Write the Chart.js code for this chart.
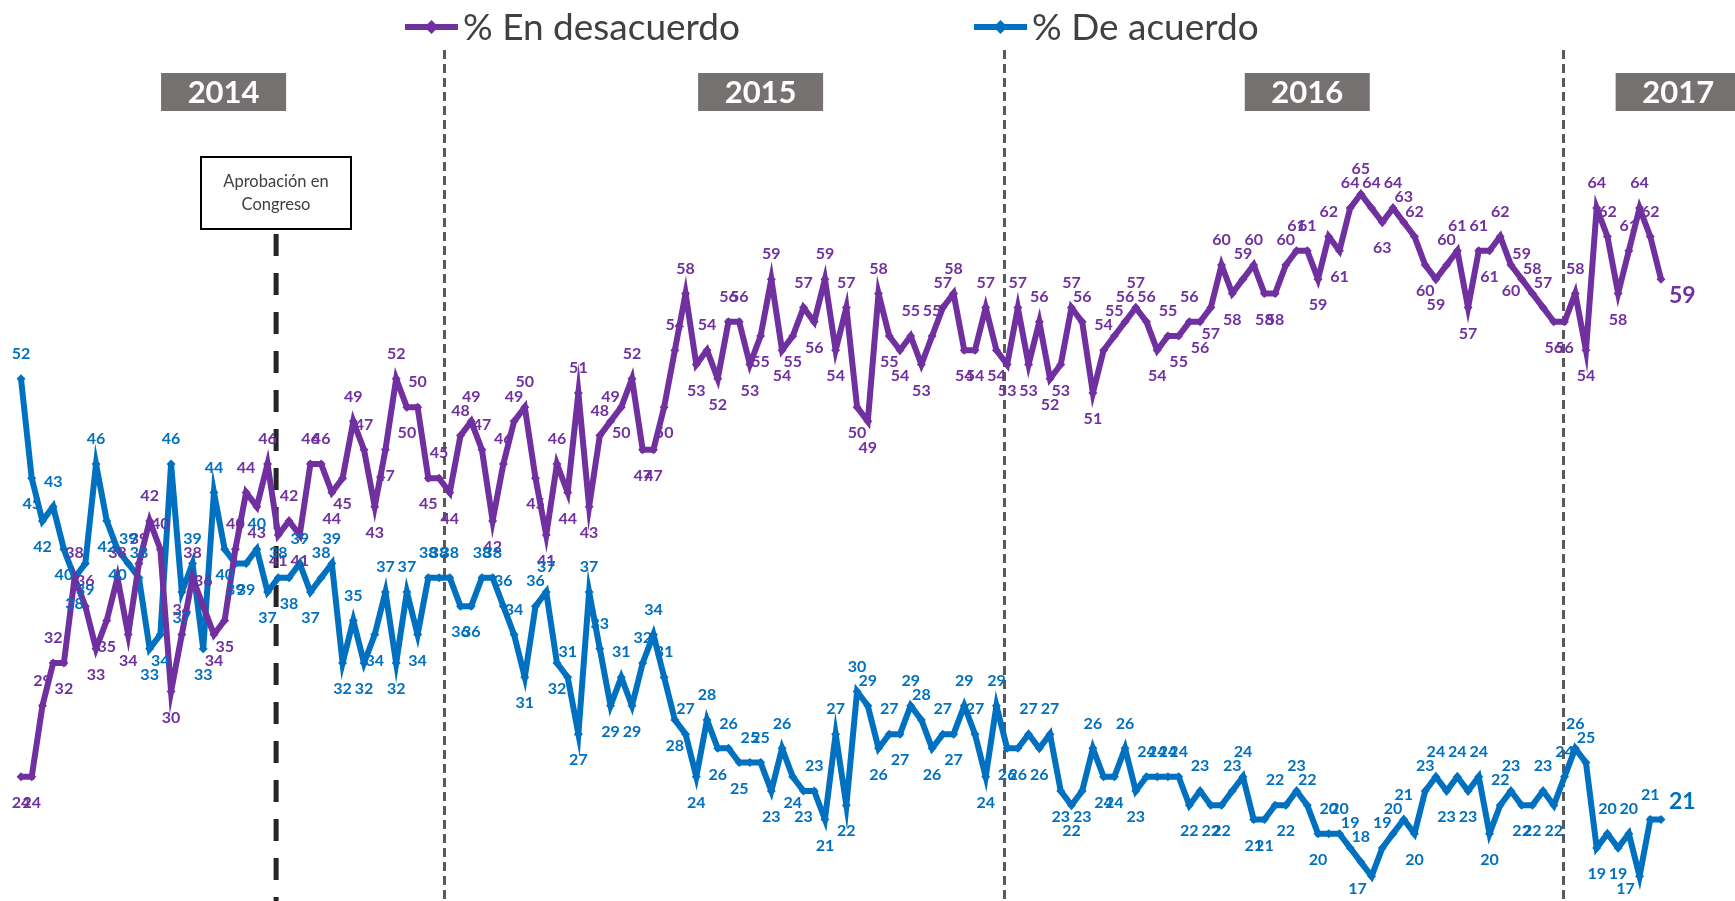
<!DOCTYPE html>
<html>
<head>
<meta charset="utf-8">
<script src="https://cdn.jsdelivr.net/npm/chart.js@4.4.1/dist/chart.umd.min.js"></script>
<style>
  html, body { margin: 0; padding: 0; background: #fff; }
  #wrap { position: relative; width: 1735px; height: 901px; }
</style>
</head>
<body>
<div id="wrap"><canvas id="chart"></canvas></div>
<script>
// % En desacuerdo (weekly)
const desacuerdo = [
  24, 24, 29, 32, 32, 38, 36, 33, 35, 38, 34, 39, 42, 40, 30, 34, 38, 36, 34, 35, 40, 44, 43, 46,
  41, 42, 41, 46, 46, 44, 45, 49, 47, 43, 47, 52, 50, 50, 45, 45, 44, 48, 49, 47, 42, 46, 49, 50, 45, 41, 46, 44,
  51, 43, 48, 49, 50, 52, 47, 47, 50, 54, 58, 53, 54, 52, 56, 56, 53, 55, 59, 54, 55, 57, 56, 59, 54, 57, 50,
  49, 58, 55, 54, 55, 53, 55, 57, 58, 54, 54, 57, 54, 53, 57, 53, 56, 52, 53, 57, 56, 51, 54, 55, 56, 57,
  56, 54, 55, 55, 56, 56, 57, 60, 58, 59, 60, 58, 58, 60, 61, 61, 59, 62, 61, 64, 65, 64, 63, 64, 63, 62, 60, 59,
  60, 61, 57, 61, 61, 62, 60, 59, 58, 57, 56, 56, 58, 54, 64, 62, 58, 61, 64, 62, 59
];

// % De acuerdo (weekly)
const deAcuerdo = [
  52, 45, 42, 43, 40, 38, 39, 46, 42, 40, 39, 38, 33, 34, 46, 37, 39, 33, 44, 40, 39, 39, 40, 37,
  38, 38, 39, 37, 38, 39, 32, 35, 32, 34, 37, 32, 37, 34, 38, 38, 38, 36, 36, 38, 38, 36, 34, 31, 36, 37, 32, 31, 27,
  37, 33, 29, 31, 29, 32, 34, 31, 28, 27, 24, 28, 26, 26, 25, 25, 25, 23, 26, 24, 23, 23, 21, 27, 22, 30,
  29, 26, 27, 27, 29, 28, 26, 27, 27, 29, 27, 24, 29, 26, 26, 27, 26, 27, 23, 22, 23, 26, 24, 24, 26, 23,
  24, 24, 24, 24, 22, 23, 22, 22, 23, 24, 21, 21, 22, 22, 23, 22, 20, 20, 20, 19, 18, 17, 19, 20, 21, 20, 23, 24,
  23, 24, 23, 24, 20, 22, 23, 22, 22, 23, 22, 24, 26, 25, 19, 20, 19, 20, 17, 21, 21
];

const semanas = desacuerdo.map((v, i) => 'Semana ' + (i + 1));

const years = ['2014', '2015', '2016', '2017'];
const yearCenter = [18.9, 69.0, 120.0, 154.6];   // week index of the year tag
const yearBreak = [39.5, 91.7, 143.9];           // dashed line between years
const aprobacionWeek = 23.8;

const PURPLE = '#7030A0';
const BLUE = '#0070C0';
const FONT = 'Lato, "Liberation Sans", sans-serif';

const decor = {
  id: 'decor',
  beforeDatasetsDraw(chart) {
    const ctx = chart.ctx;
    const xs = chart.scales.x;
    ctx.save();
    // year dividers
    ctx.strokeStyle = '#595959';
    ctx.lineWidth = 3;
    ctx.setLineDash([9, 5]);
    yearBreak.forEach(w => {
      const x = Math.round(xs.getPixelForValue(w)) + 0.5;
      ctx.beginPath();
      ctx.moveTo(x, 50);
      ctx.lineTo(x, 901);
      ctx.stroke();
    });
    // approval line
    const ax = xs.getPixelForValue(aprobacionWeek);
    ctx.strokeStyle = '#262626';
    ctx.lineWidth = 5;
    ctx.setLineDash([22, 17]);
    ctx.beginPath();
    ctx.moveTo(ax, 234);
    ctx.lineTo(ax, 901);
    ctx.stroke();
    ctx.setLineDash([]);

    // year tags
    ctx.font = 'bold 31px ' + FONT;
    ctx.textAlign = 'center';
    ctx.textBaseline = 'middle';
    years.forEach((y, i) => {
      const cx = xs.getPixelForValue(yearCenter[i]);
      ctx.fillStyle = '#767171';
      ctx.fillRect(cx - 62.5, 73, 125, 38);
      ctx.fillStyle = '#ffffff';
      ctx.fillText(y, cx, 93);
    });

    // approval box
    ctx.fillStyle = '#ffffff';
    ctx.fillRect(200, 156, 152, 74);
    ctx.strokeStyle = '#000000';
    ctx.lineWidth = 2;
    ctx.strokeRect(201, 157, 150, 72);
    ctx.fillStyle = '#404040';
    ctx.font = '16.5px ' + FONT;
    ctx.fillText('Aprobación en', 276, 182);
    ctx.fillText('Congreso', 276, 205);

    // legend
    const items = [
      { text: '% En desacuerdo', color: PURPLE, x: 405 },
      { text: '% De acuerdo', color: BLUE, x: 974 }
    ];
    ctx.textAlign = 'left';
    ctx.font = '37px ' + FONT;
    items.forEach(it => {
      ctx.strokeStyle = it.color;
      ctx.lineWidth = 6;
      ctx.beginPath();
      ctx.moveTo(it.x, 27);
      ctx.lineTo(it.x + 53, 27);
      ctx.stroke();
      ctx.fillStyle = it.color;
      ctx.beginPath();
      const mx = it.x + 26.5;
      ctx.moveTo(mx, 20); ctx.lineTo(mx + 7, 27); ctx.lineTo(mx, 34); ctx.lineTo(mx - 7, 27);
      ctx.closePath();
      ctx.fill();
      ctx.fillStyle = '#404040';
      ctx.fillText(it.text, it.x + 58, 28);
    });
    ctx.restore();
  },
  afterDatasetsDraw(chart) {
    const ctx = chart.ctx;
    ctx.save();
    ctx.textAlign = 'center';
    ctx.textBaseline = 'middle';
    chart.data.datasets.forEach((ds, di) => {
      const pts = chart.getDatasetMeta(di).data;
      const vals = ds.data;
      const last = vals.length - 1;
      ctx.fillStyle = ds.borderColor;
      vals.forEach((v, i) => {
        const p = pts[i];
        if (i === last) {
          ctx.font = 'bold 23px ' + FONT;
          ctx.textAlign = 'left';
          ctx.fillText(String(v), p.x + 8, di === 0 ? p.y + 16 : p.y - 18);
          ctx.textAlign = 'center';
          return;
        }
        const prev = i > 0 ? vals[i - 1] : v;
        const next = vals[i + 1];
        let up = v >= (prev + next) / 2;
        if (i === 0) up = di === 1;
        ctx.font = 'bold 16px ' + FONT;
        let lx = p.x;
        let ly = up ? p.y - 25 : p.y + 26;
        if (ly > 889) { ly = 889; lx -= 14; }
        ctx.fillText(String(v), lx, ly);
      });
    });
    ctx.restore();
  }
};

new Chart(document.getElementById('chart'), {
  type: 'line',
  data: {
    labels: semanas,
    datasets: [
      {
        label: '% En desacuerdo',
        data: desacuerdo,
        borderColor: PURPLE,
        backgroundColor: PURPLE,
        borderWidth: 6,
        pointStyle: 'rectRot',
        pointRadius: 4.5,
        pointBorderWidth: 0,
        tension: 0
      },
      {
        label: '% De acuerdo',
        data: deAcuerdo,
        borderColor: BLUE,
        backgroundColor: BLUE,
        borderWidth: 6,
        pointStyle: 'rectRot',
        pointRadius: 4.5,
        pointBorderWidth: 0,
        tension: 0
      }
    ]
  },
  options: {
    responsive: true,
    maintainAspectRatio: false,
    animation: false,
    layout: { padding: { left: 21, right: 74, top: 0, bottom: 0 } },
    plugins: { legend: { display: false }, tooltip: { enabled: false } },
    scales: {
      x: { display: false },
      y: { display: false, min: 15.58, max: 78.32 }
    }
  },
  plugins: [decor]
});
</script>
</body>
</html>
